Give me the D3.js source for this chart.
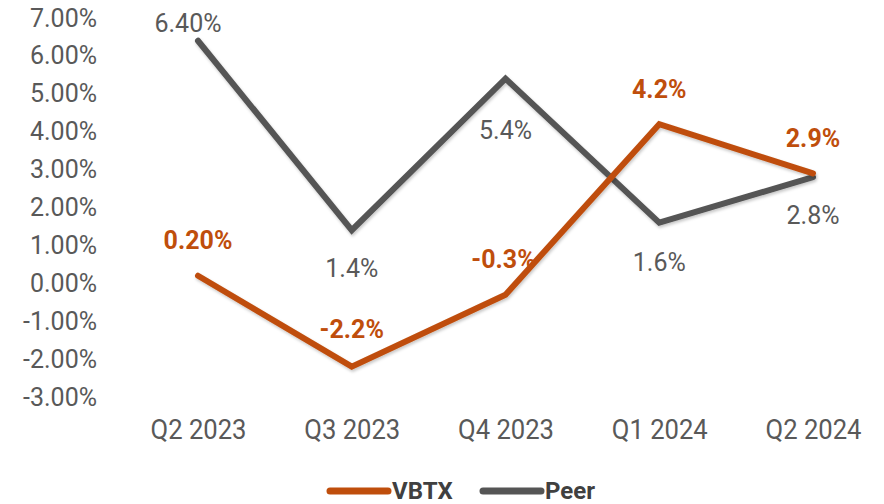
<!DOCTYPE html>
<html>
<head>
<meta charset="utf-8">
<script src="https://cdn.jsdelivr.net/npm/d3@7"></script>
<style>
  body { margin: 0; background: #fff; }
  svg { display: block; font-family: Roboto, "Noto Sans", sans-serif; }
</style>
</head>
<body>
<svg width="884" height="504"></svg>
<script>
// chart data
var quarters = ["Q2 2023", "Q3 2023", "Q4 2023", "Q1 2024", "Q2 2024"];
var vbtx = [0.20, -2.2, -0.3, 4.2, 2.9];
var peer = [6.40, 1.4, 5.4, 1.6, 2.8];
var vbtxLabels = ["0.20%", "-2.2%", "-0.3%", "4.2%", "2.9%"];
var peerLabels = ["6.40%", "1.4%", "5.4%", "1.6%", "2.8%"];
var yTicks = [7, 6, 5, 4, 3, 2, 1, 0, -1, -2, -3];

// label placement (pixels relative to the point)
var vbtxDy = [-35, -37, -35, -35, -35];
var peerDy = [-17, 38, 52, 40, 38];

var orange = "#BF4E0C", grey = "#555555", text = "#595959";

var svg = d3.select("svg");

var x = d3.scalePoint()
    .domain(quarters)
    .range([198, 813]);

var y = d3.scaleLinear()
    .domain([-3, 7])
    .range([397, 18]);

// soft shadow under the lines
var defs = svg.append("defs");
var f = defs.append("filter").attr("id", "shadow")
    .attr("x", "-10%").attr("y", "-10%").attr("width", "120%").attr("height", "130%");
f.append("feDropShadow")
    .attr("dx", 1).attr("dy", 2).attr("stdDeviation", 1.5)
    .attr("flood-color", "#000").attr("flood-opacity", 0.22);

// y axis labels
var yAxis = svg.append("g")
    .attr("transform", "translate(97,0)")
    .call(d3.axisLeft(y).tickValues(yTicks).tickSize(0).tickPadding(0)
      .tickFormat(function(d) { return d.toFixed(2) + "%"; }));
yAxis.select(".domain").remove();
yAxis.selectAll("text")
    .attr("fill", text)
    .style("font-size", "25px")
    .style("font-family", "Roboto, sans-serif");

// x axis labels (narrow, like a condensed face)
var xAxis = svg.append("g")
    .attr("transform", "translate(0,420)")
    .call(d3.axisBottom(x).tickSize(0).tickPadding(0));
xAxis.select(".domain").remove();
xAxis.selectAll("text")
    .attr("fill", text)
    .attr("dy", "0.71em")
    .style("font-size", "27px")
    .style("font-family", "Roboto, sans-serif")
    .attr("textLength", 96)
    .attr("lengthAdjust", "spacingAndGlyphs");

var line = d3.line()
    .x(function(d, i) { return x(quarters[i]); })
    .y(function(d) { return y(d); });

svg.append("path")
    .datum(peer)
    .attr("d", line)
    .attr("fill", "none")
    .attr("stroke", grey)
    .attr("stroke-width", 6)
    .attr("stroke-linejoin", "miter")
    .attr("stroke-linecap", "round")
    .attr("filter", "url(#shadow)");

svg.append("path")
    .datum(vbtx)
    .attr("d", line)
    .attr("fill", "none")
    .attr("stroke", orange)
    .attr("stroke-width", 6)
    .attr("stroke-linejoin", "miter")
    .attr("stroke-linecap", "round")
    .attr("filter", "url(#shadow)");

// data labels
svg.append("g").selectAll("text")
    .data(peer)
    .enter().append("text")
    .attr("x", function(d, i) { return x(quarters[i]) + (i === 0 ? -10 : 0); })
    .attr("y", function(d, i) { return y(d) + peerDy[i]; })
    .attr("dy", "0.35em")
    .attr("text-anchor", "middle")
    .attr("fill", text)
    .style("font-size", "25px")
    .text(function(d, i) { return peerLabels[i]; });

svg.append("g").selectAll("text")
    .data(vbtx)
    .enter().append("text")
    .attr("x", function(d, i) { return x(quarters[i]) + (i === 2 ? -2 : 0); })
    .attr("y", function(d, i) { return y(d) + vbtxDy[i]; })
    .attr("dy", "0.35em")
    .attr("text-anchor", "middle")
    .attr("fill", orange)
    .style("font-size", "25px")
    .style("font-weight", "bold")
    .text(function(d, i) { return vbtxLabels[i]; });

// legend
var legend = svg.append("g").attr("transform", "translate(0,491)");
var items = [{name: "VBTX", color: orange, x0: 330}, {name: "Peer", color: grey, x0: 483}];
items.forEach(function(it) {
  legend.append("line")
      .attr("x1", it.x0).attr("x2", it.x0 + 58)
      .attr("y1", 0).attr("y2", 0)
      .attr("stroke", it.color)
      .attr("stroke-width", 7)
      .attr("stroke-linecap", "round");
  legend.append("text")
      .attr("x", it.x0 + 62)
      .attr("dy", "0.35em")
      .attr("fill", "#404040")
      .style("font-size", "24px")
      .style("font-weight", "bold")
      .text(it.name);
});
</script>
</body>
</html>
